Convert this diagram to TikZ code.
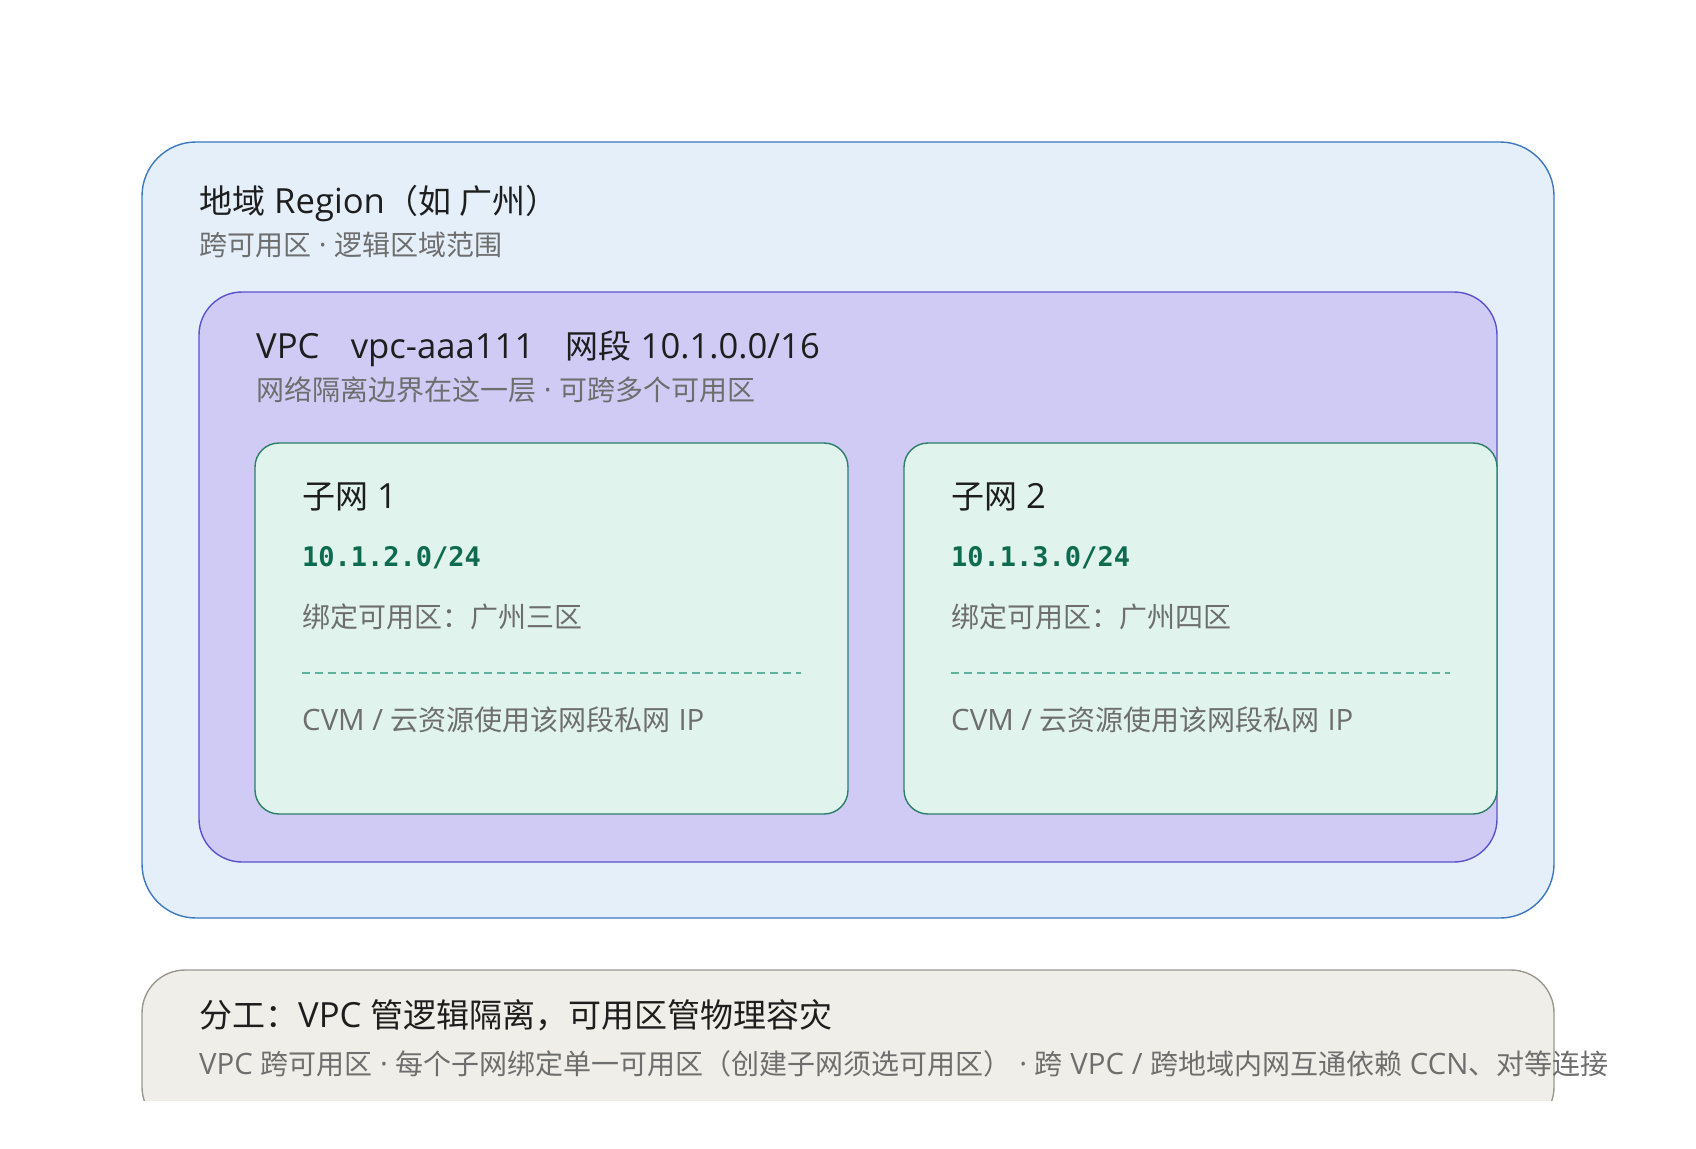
\documentclass[tikz,border=0pt]{standalone}
\usepackage{fontspec}
\setmainfont{Noto Sans CJK SC}
\newfontfamily\latf[Scale=1.05]{Open Sans}
\newfontfamily\monof{DejaVu Sans Mono}
\newcommand\lt[1]{{\latf #1}}
\definecolor{regfill}{HTML}{E5EFFA}
\definecolor{regline}{HTML}{3B78C0}
\definecolor{vpcfill}{HTML}{CFCBF5}
\definecolor{vpcline}{HTML}{5D52CC}
\definecolor{subfill}{HTML}{E0F3EC}
\definecolor{subline}{HTML}{2B7E68}
\definecolor{botfill}{HTML}{F0EEE8}
\definecolor{botline}{HTML}{9B988F}
\definecolor{titlec}{HTML}{1E1E1E}
\definecolor{subc}{HTML}{6E6E6E}
\definecolor{ipc}{HTML}{0E6B50}
\definecolor{dashc}{HTML}{5FB39C}
\tikzset{
  ttl/.style={anchor=base west,inner sep=0pt,text=titlec,font=\fontsize{33}{39}\selectfont},
  sub/.style={anchor=base west,inner sep=0pt,text=subc,font=\fontsize{28}{33}\selectfont},
  ip/.style={anchor=base west,inner sep=0pt,text=ipc,font=\monof\bfseries\fontsize{27}{32}\selectfont},
  sep/.style={dashc,line width=1.3pt,dash pattern=on 8pt off 5pt},
}
\begin{document}
\begin{tikzpicture}[x=1pt,y=-1pt]
\useasboundingbox (0,0) rectangle (1696,1148);
% region
\draw[regline,fill=regfill,line width=1.4pt,rounded corners=54pt] (142,142) rectangle (1554,918);
\node[ttl] (regt) at (199,213) {地域\lt{ Region}（如\lt{ }广州）};
\node[sub] (regs) at (199,255) {跨可用区\lt{ · }逻辑区域范围};
% vpc
\draw[vpcline,fill=vpcfill,line width=1.4pt,rounded corners=43pt] (199,292) rectangle (1497,862);
\node[ttl] (vpct) at (256,358) {\lt{VPC}\hspace{0.95em}\lt{vpc-aaa111}\hspace{0.95em}网段\lt{ 10.1.0.0/16}};
\node[sub] (vpcs) at (256,400) {网络隔离边界在这一层\lt{ · }可跨多个可用区};
% subnet 1
\draw[subline,fill=subfill,line width=1.4pt,rounded corners=24pt] (255,443) rectangle (848,814);
\node[ttl] (s1t) at (302,508) {子网\lt{ 1}};
\node[ip] (s1ip) at (302,566) {10.1.2.0/24};
\node[sub] (s1z) at (302,627) {绑定可用区：广州三区};
\coordinate (s1a) at (302,673);
\coordinate (s1b) at (801,673);
\draw[sep] (s1a) -- (s1b);
\node[sub] (s1c) at (302,730) {\lt{CVM / }云资源使用该网段私网\lt{ IP}};
% subnet 2
\draw[subline,fill=subfill,line width=1.4pt,rounded corners=24pt] (904,443) rectangle (1497,814);
\node[ttl] (s2t) at (951,508) {子网\lt{ 2}};
\node[ip] (s2ip) at (951,566) {10.1.3.0/24};
\node[sub] (s2z) at (951,627) {绑定可用区：广州四区};
\coordinate (s2a) at (951,673);
\coordinate (s2b) at (1450,673);
\draw[sep] (s2a) -- (s2b);
\node[sub] (s2c) at (951,730) {\lt{CVM / }云资源使用该网段私网\lt{ IP}};
% bottom
\begin{scope}
\clip (0,0) rectangle (1696,1100);
\draw[botline,fill=botfill,line width=1.4pt,rounded corners=43pt] (142,970) rectangle (1554,1130);
\end{scope}
\node[ttl] (bt) at (199,1027) {分工：\lt{VPC }管逻辑隔离，可用区管物理容灾};
\node[sub] (bs) at (199,1074) {\lt{VPC }跨可用区\lt{ · }每个子网绑定单一可用区（创建子网须选可用区）\lt{ · }跨\lt{ VPC / }跨地域内网互通依赖\lt{ CCN}、对等连接};
\end{tikzpicture}
\end{document}
